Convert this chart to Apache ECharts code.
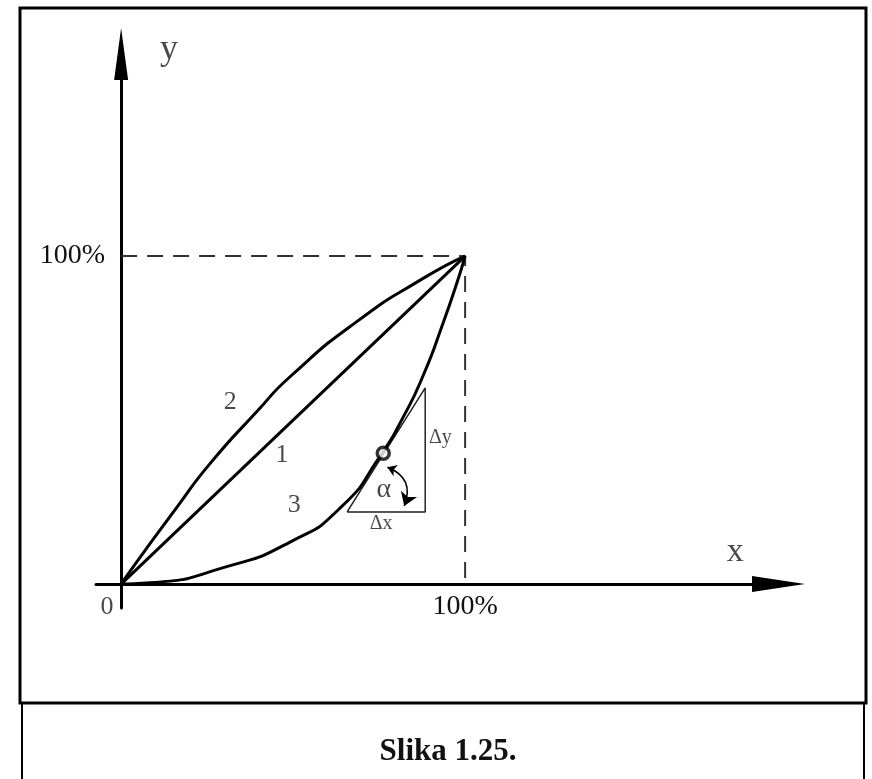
<!DOCTYPE html>
<html>
<head>
<meta charset="utf-8">
<script src="https://cdn.jsdelivr.net/npm/echarts@6/dist/echarts.min.js"></script>
<style>
  html, body { margin: 0; padding: 0; background: #fff; }
  #chart { width: 872px; height: 779px; }
</style>
</head>
<body>
<div id="chart"></div>
<script>
// curve 1 - linear
const curve1 = [[0, 0], [100, 100]];
// curve 2 - concave, above the line
const curve2 = [[0, 0], [6.4, 9.4], [16.2, 23.4], [25.9, 36.8], [39.4, 52.5], [49.1, 63.2], [68.5, 80.0], [87.8, 93.2], [100, 100]];
// curve 3 - convex, below the line
const curve3 = [[0, 0], [8.4, 0.4], [30.7, 5.3], [49.1, 12.8], [63.7, 23.2], [75.3, 39.0], [82.0, 50.9], [87.9, 63.8], [93.6, 79.6], [97.6, 91.8], [100, 100]];

const guide = [[0, 100], [100, 100], [100, 0]];
const markedPoint = [[76.2, 39.9]];
const tangent = [[65.7, 22.0], [88.4, 22.0], [88.4, 59.8], [65.7, 22.0]];
const alphaArc = [[77.4, 35.6], [82.3, 23.8]];

const axisTicks = [100];
const labelTexts = ["1", "2", "3", "\u03B1", "\u0394y", "\u0394x", "0", "y", "x"];
const labelPos = [[46.8, 39.3], [31.7, 55.5], [50.3, 24.1], [76.4, 28.7], [92.8, 44.5], [75.6, 18.4], [-4.1, -6.9], [13.9, 163.0], [178.5, 9.7]];
const labelSizes = [26, 26, 26, 28, 20, 20, 26, 36, 34];

const serif = "Liberation Serif";
const chart = echarts.init(document.getElementById("chart"));

const curveStyle = { color: "#000", width: 3 };

chart.setOption({
    animation: false,
    backgroundColor: "#fff",
    title: {
        text: "Slika 1.25.",
        left: 443,
        textAlign: "center",
        top: 731,
        textStyle: { fontFamily: serif, fontSize: 31, fontWeight: "bold", color: "#111" }
    },
    graphic: [
        { type: "rect", shape: { x: 20, y: 8, width: 846, height: 695 }, style: { fill: null, stroke: "#000", lineWidth: 3 } },
        { type: "line", shape: { x1: 22, y1: 703, x2: 22, y2: 779 }, style: { stroke: "#000", lineWidth: 2 } },
        { type: "line", shape: { x1: 864, y1: 703, x2: 864, y2: 779 }, style: { stroke: "#000", lineWidth: 2 } }
    ],
    grid: { left: 96, right: 93.5, top: 54, bottom: 171 },
    xAxis: {
        type: "value",
        min: -7.3,
        max: 191.1,
        splitLine: { show: false },
        axisTick: { show: false },
        axisLine: {
            onZero: true,
            lineStyle: { color: "#000", width: 3 },
            symbol: ["none", "triangle"],
            symbolSize: [16, 53]
        },
        axisLabel: {
            customValues: axisTicks,
            formatter: "{value}%",
            margin: -15,
            fontFamily: serif,
            fontSize: 28,
            color: "#111"
        }
    },
    yAxis: {
        type: "value",
        min: -7.3,
        max: 161.6,
        splitLine: { show: false },
        axisTick: { show: false },
        axisLine: {
            onZero: true,
            lineStyle: { color: "#000", width: 3 },
            symbol: ["none", "triangle"],
            symbolSize: [14, 52]
        },
        axisLabel: {
            customValues: axisTicks,
            formatter: "{value}%",
            margin: -9,
            fontFamily: serif,
            fontSize: 28,
            color: "#111"
        }
    },
    series: [
        {
            name: "guide",
            type: "line",
            data: guide,
            showSymbol: false,
            silent: true,
            lineStyle: { color: "#333", width: 2, type: [16, 10] }
        },
        {
            name: "tangent",
            type: "line",
            data: tangent,
            showSymbol: false,
            silent: true,
            lineStyle: { color: "#222", width: 1.5 }
        },
        { name: "1", type: "line", data: curve1, showSymbol: false, lineStyle: curveStyle },
        { name: "2", type: "line", data: curve2, smooth: 0.6, showSymbol: false, lineStyle: curveStyle },
        { name: "3", type: "line", data: curve3, smooth: 0.6, showSymbol: false, lineStyle: curveStyle },
        {
            name: "alpha",
            type: "lines",
            coordinateSystem: "cartesian2d",
            silent: true,
            symbol: ["arrow", "arrow"],
            symbolSize: [9, 13],
            lineStyle: { color: "#000", width: 1.5, curveness: 0.5, opacity: 1 },
            data: [{ coords: alphaArc }]
        },
        {
            name: "point",
            type: "scatter",
            data: markedPoint,
            symbol: "circle",
            symbolSize: 12,
            itemStyle: { color: "#fff", borderColor: "#000", borderWidth: 3.5 },
            z: 5
        },
        {
            name: "labels",
            type: "scatter",
            silent: true,
            clip: false,
            symbolSize: 0,
            data: labelPos.map((p, i) => ({
                value: p,
                label: {
                    show: true,
                    position: "inside",
                    formatter: labelTexts[i],
                    fontFamily: serif,
                    fontSize: labelSizes[i],
                    color: "#1a1a1a"
                }
            }))
        }
    ]
});
</script>
</body>
</html>
